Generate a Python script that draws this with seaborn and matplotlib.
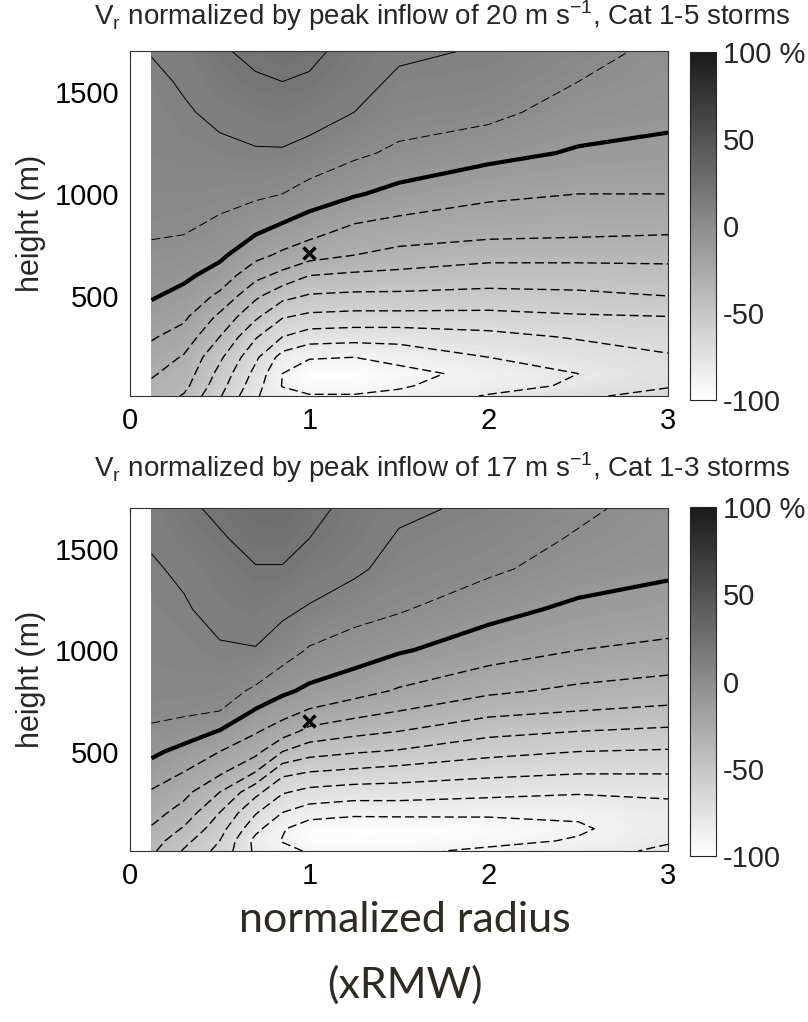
import numpy as np
import matplotlib
matplotlib.use("Agg")
import matplotlib.pyplot as plt
import seaborn as sns

# composite grid: normalized radius (xRMW) and height (m)
radius = [0.12, 0.3, 0.5, 0.7, 0.85, 1.0, 1.25, 1.5, 2.0, 2.5, 3.0]
height = [10, 60, 120, 200, 300, 400, 500, 600, 700, 800, 1000, 1200, 1400, 1550, 1700]

# normalized Vr (%), one vertical profile per radius (bottom -> top)
vr_cat1_5 = [
    [-33, -31.5, -29, -24, -19, -14, -9, -6, -2.5, 0.8, 4, 6, 7, 8, 10.5],
    [-41, -37, -34, -31, -24, -18, -13, -8, -4, 0, 4, 7, 9, 11, 13],
    [-59, -56, -53, -48, -40, -32, -22, -14, -8, -3, 3, 8, 12, 16, 19],
    [-79, -76, -73, -68, -59, -48, -38, -27, -17, -10, 2, 9, 15, 19, 22],
    [-86, -90.5, -90, -84, -70, -59, -47, -33, -22, -14, 0, 9, 16, 20, 24],
    [-89, -95, -97, -89, -75, -62, -51, -40, -26, -18, -4, 7, 14, 19, 22],
    [-89, -95, -97, -90, -76, -63, -52, -42, -30, -24, -9, 2, 10, 14, 17],
    [-88, -91, -93, -87, -76, -63, -52, -43, -33, -26, -13, -2, 5, 8, 12],
    [-79, -85, -87, -80, -73, -63, -53, -45, -37, -28, -18, -7, 3, 7, 9],
    [-72, -78, -80, -76, -69, -61, -52, -45, -37, -29, -20, -11, -5, 0, 4],
    [-66, -71, -74, -71, -66, -60, -50, -44, -37, -30, -20, -13, -7, -5, -3],
]
vr_cat1_3 = [
    [-38, -35, -31, -26, -21, -14, -8, -2, 3, 5, 6.5, 7.5, 9, 11, 13],
    [-51, -47, -41, -34, -27, -20, -13, -5, 2, 5, 7, 9, 11.5, 15, 18],
    [-63, -60, -56, -50, -40, -28, -20, -10.5, 0, 4, 9, 13, 16, 19, 22],
    [-82, -83, -77, -69, -57, -40, -27, -19, -11, -1.5, 9.5, 15, 19.5, 23, 25],
    [-87, -90.5, -89, -80, -69, -57, -40, -25, -16, -8, 5, 12, 19.5, 23, 26],
    [-91, -96, -96, -85, -73, -60, -46, -33, -21, -12, -1, 9, 16, 20, 23],
    [-93, -98, -99, -87, -75, -62, -49, -37, -26, -16, -5, 4, 12, 15, 17],
    [-92, -97, -98, -87, -75, -64, -51, -40, -30, -21, -9, 1, 6, 9, 12],
    [-88, -93, -95, -88, -77, -67, -57, -47, -37, -28, -15, -7, 2, 5, 8],
    [-84, -89, -91.5, -88, -79, -69, -60, -50, -40, -32, -20, -12, -5, -1, 2],
    [-78, -81, -83, -82, -79, -69, -61, -52, -42, -35, -22, -15, -8, -6, -4],
]

titles = [
    r"V$_{\mathregular{r}}$ normalized by peak inflow of 20 m s$^{\mathregular{-1}}$, Cat 1-5 storms",
    r"V$_{\mathregular{r}}$ normalized by peak inflow of 17 m s$^{\mathregular{-1}}$, Cat 1-3 storms",
]
# RMW marker (x) position in each panel
rmw_r = [1.0, 1.0]
rmw_h = [710, 650]

x_ticks = [0, 1, 2, 3]
y_ticks = [500, 1000, 1500]
cbar_ticks = [-100, -50, 0, 50, 100]
cbar_labels = ["-100", "-50", "0", "50", "100 %"]
neg_levels = [-90, -80, -70, -60, -50, -40, -30, -20]

sns.set_style("white")
plt.rcParams["font.family"] = ["Liberation Sans", "DejaVu Sans"]
plt.rcParams["axes.unicode_minus"] = False

cmap = sns.blend_palette(["#ffffff", "#1a1a1a"], as_cmap=True)

fig = plt.figure(figsize=(8.08, 10.22), dpi=100)

ax_rects = [[0.1609, 0.6125, 0.6658, 0.3376], [0.1609, 0.1673, 0.6658, 0.3356]]
cax_rects = [[0.854, 0.6086, 0.0322, 0.3405], [0.854, 0.1624, 0.0322, 0.3415]]
title_y = [1 - 16 / 1022, 1 - 468 / 1022]

R, H = np.meshgrid(radius, height)

for i, data in enumerate([vr_cat1_5, vr_cat1_3]):
    Z = np.array(data).T
    norm = matplotlib.colors.Normalize(vmin=-100, vmax=100)
    ax = fig.add_axes(ax_rects[i])
    ax.set_facecolor("white")
    ax.contourf(R, H, Z, levels=np.arange(-100, 101, 2), cmap=cmap, norm=norm)
    ax.contour(R, H, Z, levels=neg_levels, colors="k", linewidths=1.0,
               linestyles=[(0, (6.5, 3))])
    ax.contour(R, H, Z, levels=[0], colors="k", linewidths=0.7,
               linestyles=[(0, (9, 4))])
    ax.contour(R, H, Z, levels=[10, 20], colors="k", linewidths=0.7,
               linestyles="solid")
    ax.contour(R, H, Z, levels=[-10], colors="k", linewidths=3.0,
               linestyles="solid")
    ax.plot(rmw_r[i], rmw_h[i], marker="x", color="k", ms=8, mew=2.5)

    ax.set_xlim(0, 3)
    ax.set_ylim(10, 1700)
    ax.set_xticks(x_ticks)
    ax.set_yticks(y_ticks)
    ax.tick_params(direction="in", length=5, width=0.8, top=True, right=True,
                   labelsize=21, pad=8, colors="k")
    for sp in ax.spines.values():
        sp.set_linewidth(0.8)
        sp.set_color("#333333")
    ax.set_ylabel("height (m)", fontsize=22)
    ax.yaxis.set_label_coords(-0.156, 0.5)

    fig.text(442 / 808, title_y[i], titles[i], ha="center", va="center", fontsize=20)

    cax = fig.add_axes(cax_rects[i])
    sm = matplotlib.cm.ScalarMappable(norm=norm, cmap=cmap)
    cb = fig.colorbar(sm, cax=cax)
    cb.set_ticks(cbar_ticks, labels=cbar_labels)
    cb.ax.tick_params(direction="in", left=True, right=True, length=4, width=0.8,
                      labelsize=21, pad=5)
    cb.outline.set_linewidth(0.8)

fig.text(405 / 808, 1 - 920 / 1022, "normalized radius", ha="center", va="center",
         fontsize=31, family=["Lato", "DejaVu Sans"], color="#2e2a24")
fig.text(405 / 808, 1 - 985 / 1022, "(xRMW)", ha="center", va="center",
         fontsize=31, family=["Lato", "DejaVu Sans"], color="#2e2a24")

fig.savefig("out.png", dpi=100)
